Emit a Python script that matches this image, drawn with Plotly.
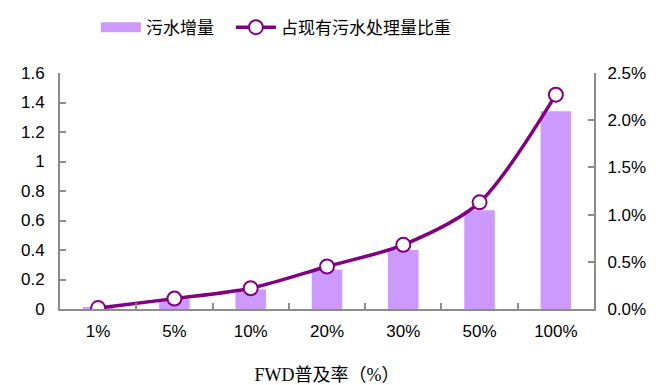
import plotly.graph_objects as go

# FWD penetration scenarios
categories = ["1%", "5%", "10%", "20%", "30%", "50%", "100%"]
# added sewage volume (left axis)
sewage_increase = [0.008, 0.067, 0.134, 0.268, 0.40, 0.67, 1.34]
# share of existing sewage treatment capacity (right axis, fraction)
share_of_capacity = [0.0001, 0.0011, 0.0022, 0.0045, 0.0068, 0.0113, 0.0227]

bar_color = "#CC99FF"
line_color = "#800080"
axis_color = "#8C8C8C"
tick_font = dict(family="Liberation Sans, Arial, sans-serif", size=17, color="#000000")

fig = go.Figure()
fig.add_trace(go.Bar(
    x=categories, y=sewage_increase, name="污水增量",
    marker=dict(color=bar_color, line=dict(width=0)),
    width=0.4, yaxis="y", showlegend=False,
))
# legend entry for the bars, drawn as a wide colour block
fig.add_trace(go.Scatter(
    x=[None], y=[None], name="污水增量", mode="lines",
    line=dict(color=bar_color, width=13), yaxis="y", legendwidth=80,
))
fig.add_trace(go.Scatter(
    x=categories, y=share_of_capacity, name="占现有污水处理量比重",
    mode="lines+markers", yaxis="y2",
    line=dict(color=line_color, width=3.5, shape="spline", smoothing=0.8),
    marker=dict(size=14, color="white", line=dict(color=line_color, width=2)),
))

fig.update_layout(
    width=666, height=385,
    margin=dict(l=60, r=72, t=73, b=76),
    plot_bgcolor="white", paper_bgcolor="white",
    showlegend=True,
    legend=dict(
        orientation="h", xref="container", yref="container",
        x=0.144, y=0.975, xanchor="left", yanchor="top",
        font=dict(family="Noto Sans CJK SC, sans-serif", size=17, color="#000000"),
        itemwidth=40, tracegroupgap=0, bgcolor="rgba(0,0,0,0)",
    ),
    xaxis=dict(
        showline=True, linecolor=axis_color, linewidth=2, automargin=False,
        ticks="inside", tickson="boundaries", ticklen=6, tickcolor=axis_color, tickwidth=1.5,
        tickfont=tick_font, showgrid=False, ticklabelstandoff=6,
        title=dict(text="FWD普及率（%）", standoff=29,
                   font=dict(family="Liberation Serif, Noto Sans CJK SC, serif", size=18, color="#000000")),
    ),
    yaxis=dict(
        range=[0, 1.6], dtick=0.2, showline=True, linecolor=axis_color, linewidth=2,
        ticks="inside", ticklen=6, tickcolor=axis_color, tickwidth=1.5, automargin=False,
        tickfont=tick_font, showgrid=False, zeroline=False, ticklabelstandoff=10,
    ),
    yaxis2=dict(
        range=[0, 0.025], dtick=0.005, tickformat=".1%", overlaying="y", side="right",
        showline=True, linecolor=axis_color, linewidth=2, automargin=False,
        ticks="inside", ticklen=6, tickcolor=axis_color, tickwidth=1.5,
        tickfont=tick_font, showgrid=False, zeroline=False, ticklabelstandoff=8,
    ),
)

fig.write_html("out.html")
